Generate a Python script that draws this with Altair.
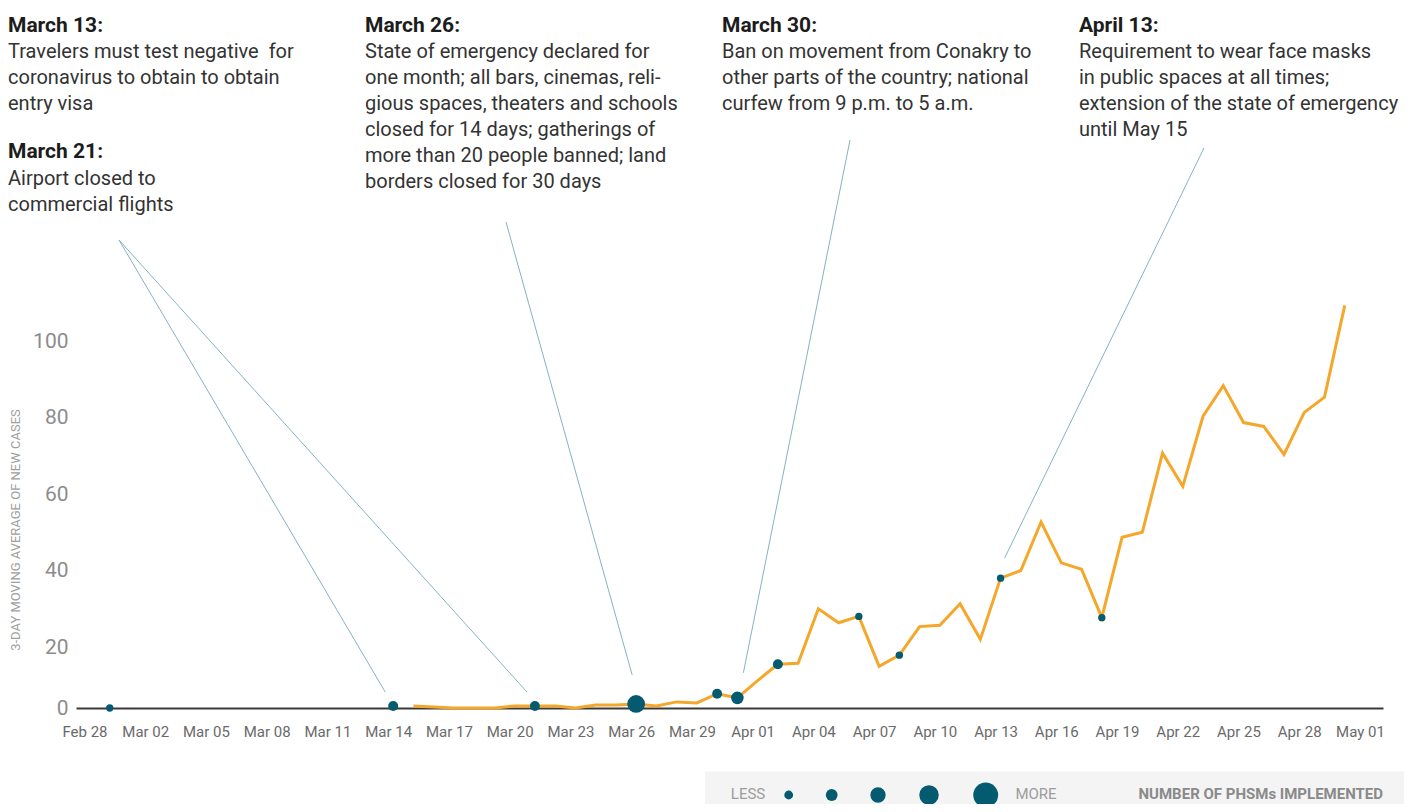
import altair as alt
import pandas as pd

# ---------------- data ----------------
case_dates = [
    "2020-03-15", "2020-03-16", "2020-03-17", "2020-03-18", "2020-03-19", "2020-03-20",
    "2020-03-21", "2020-03-22", "2020-03-23", "2020-03-24", "2020-03-25", "2020-03-26",
    "2020-03-27", "2020-03-28", "2020-03-29", "2020-03-30", "2020-03-31", "2020-04-01",
    "2020-04-02", "2020-04-03", "2020-04-04", "2020-04-05", "2020-04-06", "2020-04-07",
    "2020-04-08", "2020-04-09", "2020-04-10", "2020-04-11", "2020-04-12", "2020-04-13",
    "2020-04-14", "2020-04-15", "2020-04-16", "2020-04-17", "2020-04-18", "2020-04-19",
    "2020-04-20", "2020-04-21", "2020-04-22", "2020-04-23", "2020-04-24", "2020-04-25",
    "2020-04-26", "2020-04-27", "2020-04-28", "2020-04-29", "2020-04-30",
]
case_values = [
    0.67, 0.33, 0, 0, 0, 0.67,
    0.67, 0.67, 0, 1, 1, 1.33,
    0.67, 2, 1.67, 4.67, 3.33, 9,
    14.33, 14.67, 30, 26.33, 28, 13.67,
    17.33, 25.33, 25.67, 31.33, 22, 38,
    40, 52.67, 42, 40.33, 27.67, 48.67,
    50, 70.67, 62, 80.33, 88.33, 78.67,
    77.67, 70.33, 81.33, 85.33, 109.33,
]

phsm_dates = ["2020-02-29", "2020-03-14", "2020-03-21", "2020-03-26", "2020-03-30",
              "2020-03-31", "2020-04-02", "2020-04-06", "2020-04-08", "2020-04-13",
              "2020-04-18"]
phsm_values = [0, 0.67, 0.67, 1.33, 4.67, 3.33, 14.33, 28, 17.33, 38, 27.67]
phsm_counts = [1, 2, 2, 5, 2, 3, 2, 1, 1, 1, 1]

legend_levels = [1, 2, 3, 4, 5]

tick_dates = ["2020-02-28", "2020-03-02", "2020-03-05", "2020-03-08", "2020-03-11",
              "2020-03-14", "2020-03-17", "2020-03-20", "2020-03-23", "2020-03-26",
              "2020-03-29", "2020-04-01", "2020-04-04", "2020-04-07", "2020-04-10",
              "2020-04-13", "2020-04-16", "2020-04-19", "2020-04-22", "2020-04-25",
              "2020-04-28", "2020-05-01"]
y_ticks = [0, 20, 40, 60, 80, 100]

y_title = "3-DAY MOVING AVERAGE OF NEW CASES"
legend_less = "LESS"
legend_more = "MORE"
legend_title = "NUMBER OF PHSMs IMPLEMENTED"

annotation_titles = ["March 13:", "March 21:", "March 26:", "March 30:", "April 13:"]
annotation_bodies = [
    ["Travelers must test negative \u00a0for", "coronavirus to obtain to obtain", "entry visa"],
    ["Airport closed to", "commercial flights"],
    ["State of emergency declared for", "one month; all bars, cinemas, reli-",
     "gious spaces, theaters and schools", "closed for 14 days; gatherings of",
     "more than 20 people banned; land", "borders closed for 30 days"],
    ["Ban on movement from Conakry to", "other parts of the country; national",
     "curfew from 9 p.m. to 5 a.m."],
    ["Requirement to wear face masks", "in public spaces at all times;",
     "extension of the state of emergency", "until May 15"],
]
leader_dates = ["2020-03-14", "2020-03-21", "2020-03-26", "2020-03-31", "2020-04-13"]

# ---------------- layout / style ----------------
W, H = 1307, 700
FONT = "Roboto"
ORANGE = "#f5a72b"
TEAL = "#045b6f"
LEADER = "#86b3c1"

# annotation anchor points (plot coordinates): x, title baseline y, body baseline y
ANN_POS = [(-68, 23.5, 50.3), (-68, 150.3, 177), (289, 23.5, 50.3), (646, 23.5, 50.3), (1003, 23.5, 50.3)]
# leader lines: offset of the lower end from its dot, upper end in plot coordinates
LEADER_POS = [(-8, -14, 43, 232), (-8, -14, 43, 232), (-4, -29, 430, 214),
              (6, -25, 774, 132), (4, -20, 1128, 140)]
LEGEND_Y = 787


def dt(s, h=0, m=0):
    y, mo, d = (int(p) for p in s.split("-"))
    return alt.DateTime(year=y, month=mo, date=d, hours=h, minutes=m, utc=True)


X_ENC = alt.X(
    "date:T",
    scale=alt.Scale(type="utc", domain=[dt("2020-02-27", 8, 0), dt("2020-05-01", 21, 20)], nice=False),
    axis=alt.Axis(values=[dt(s) for s in tick_dates], format="%b %d", labelFont=FONT,
                  labelFontSize=15, labelColor="#6a6a6a", domainColor="#3a3a3a",
                  domainWidth=2, ticks=False, grid=False, labelPadding=16,
                  labelOffset=-5, labelOverlap=False, labelFlush=False, title=None),
)
Y_ENC = alt.Y(
    "value:Q",
    scale=alt.Scale(domain=[0, 20, 100], range=[700, 639, 333], nice=False, zero=False),
    axis=alt.Axis(values=y_ticks, labelFont=FONT, labelFontSize=21, labelColor="#8c8c8c",
                  domain=False, ticks=False, grid=False, labelPadding=8, title=None),
)

cases = pd.DataFrame({"date": case_dates, "value": case_values})
phsm = pd.DataFrame({"date": phsm_dates, "value": phsm_values, "n": phsm_counts})
one = pd.DataFrame({"k": [0]})

line = alt.Chart(cases).mark_line(color=ORANGE, strokeWidth=3, strokeJoin="miter").encode(
    x=X_ENC, y=Y_ENC)

dots = alt.Chart(phsm).mark_circle(color=TEAL, opacity=1).encode(
    x=X_ENC, y=Y_ENC,
    size=alt.Size("n:Q", scale=alt.Scale(type="linear", domain=[1, 2, 3, 4, 5],
                                         range=[54, 99, 158, 230, 314], zero=False, nice=False),
                  legend=None))

leaders = []
for d, (dx, dy, x2, y2) in zip(leader_dates, LEADER_POS):
    sub = phsm[phsm["date"] == d]
    leaders.append(
        alt.Chart(sub).mark_rule(color=LEADER, strokeWidth=1, xOffset=dx, yOffset=dy).encode(
            x=X_ENC, y=Y_ENC, x2=alt.value(x2), y2=alt.value(y2)))

main = alt.layer(*leaders, line, dots)

texts = []
for title, body, (ax, ty, by) in zip(annotation_titles, annotation_bodies, ANN_POS):
    texts.append(alt.Chart(one).mark_text(text=title, font=FONT, fontSize=21, fontWeight="bold",
                                          color="#1c1c1c", align="left", baseline="alphabetic")
                 .encode(x=alt.value(ax), y=alt.value(ty)))
    texts.append(alt.Chart(one).mark_text(text=body, font=FONT, fontSize=20, color="#333333",
                                          align="left", baseline="alphabetic", lineHeight=26)
                 .encode(x=alt.value(ax), y=alt.value(by)))

ytitle = alt.Chart(one).mark_text(text=y_title, font=FONT, fontSize=13, color="#a0a0a0",
                                  angle=270, align="center", baseline="middle").encode(
    x=alt.value(-60), y=alt.value(522))

legend_bg = alt.Chart(one).mark_rect(color="#f4f4f4").encode(
    x=alt.value(629), x2=alt.value(1328), y=alt.value(763.5), y2=alt.value(800))

legend_dots = alt.Chart(pd.DataFrame({"n": legend_levels})).mark_circle(color=TEAL, opacity=1).encode(
    x=alt.X("n:Q", scale=alt.Scale(type="linear", domain=[1, 2, 3, 4, 5],
                                   range=[712.7, 755.7, 802, 853, 909.7], zero=False, nice=False),
            axis=None),
    y=alt.value(LEGEND_Y),
    size=alt.Size("n:Q", scale=alt.Scale(type="linear", domain=[1, 2, 3, 4, 5],
                                         range=[78, 139, 235, 380, 620], zero=False, nice=False),
                  legend=None))

legend_less_t = alt.Chart(one).mark_text(text=legend_less, font=FONT, fontSize=15, color="#9c9c9c",
                                         align="center", baseline="middle").encode(
    x=alt.value(672), y=alt.value(LEGEND_Y - 1))
legend_more_t = alt.Chart(one).mark_text(text=legend_more, font=FONT, fontSize=15, color="#9c9c9c",
                                         align="center", baseline="middle").encode(
    x=alt.value(960), y=alt.value(LEGEND_Y - 1))
legend_title_t = alt.Chart(one).mark_text(text=legend_title, font=FONT, fontSize=15, fontWeight="bold",
                                          color="#8a8a8a", align="right", baseline="middle").encode(
    x=alt.value(1307), y=alt.value(LEGEND_Y - 1))

chart = alt.layer(
    legend_bg, main, *texts, ytitle, legend_dots, legend_less_t, legend_more_t, legend_title_t
).resolve_scale(x="independent", size="independent").properties(
    width=W, height=H,
    autosize=alt.AutoSizeParams(type="none"),
    padding={"left": 68, "top": 0, "right": 25, "bottom": 96},
).configure_view(stroke=None)

chart.save("out.html", embed_options={"renderer": "svg", "actions": False})
